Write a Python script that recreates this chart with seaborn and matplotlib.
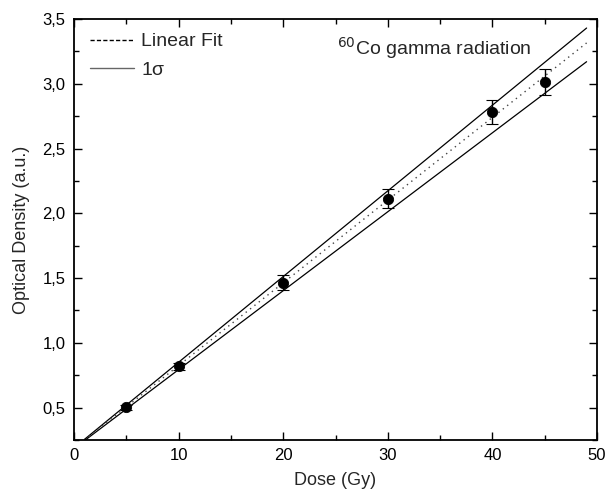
import numpy as np
import pandas as pd
import matplotlib
matplotlib.use("Agg")
import matplotlib.pyplot as plt
import seaborn as sns
from matplotlib.lines import Line2D
from matplotlib.ticker import FuncFormatter, MultipleLocator

# measured points
dose = [5, 10, 20, 30, 40, 45]
optical_density = [0.504, 0.818, 1.465, 2.113, 2.780, 3.010]
od_error = [0.02, 0.03, 0.06, 0.073, 0.092, 0.10]

# linear fit and 1 sigma band (endpoints)
fit_dose = [1, 49]
fit_od = [0.250, 3.315]
band_upper = [0.255, 3.43]
band_lower = [0.245, 3.17]

sns.set_style("ticks")
plt.rcParams["font.family"] = ["Liberation Sans", "DejaVu Sans"]

fig = plt.figure(figsize=(6.08, 4.99), dpi=100)
ax = fig.add_axes([0.1217, 0.1182, 0.8603, 0.8438])

points = pd.DataFrame({"dose": dose, "od": optical_density})
fit = pd.DataFrame({"dose": fit_dose, "fit": fit_od, "upper": band_upper, "lower": band_lower})

sns.lineplot(data=fit, x="dose", y="upper", color="black", lw=0.9, ax=ax)
sns.lineplot(data=fit, x="dose", y="lower", color="black", lw=0.9, ax=ax)
sns.lineplot(data=fit, x="dose", y="fit", color="#444444", lw=1.0,
             linestyle=(0, (1, 3)), ax=ax)

ax.errorbar(dose, optical_density, yerr=od_error, fmt="none", ecolor="black",
            elinewidth=1.0, capsize=4.5, capthick=0.8)
sns.scatterplot(data=points, x="dose", y="od", color="black", s=55,
                edgecolor="black", zorder=5, ax=ax)

ax.set_xlim(0, 50)
ax.set_ylim(0.25, 3.5)
ax.xaxis.set_major_locator(MultipleLocator(10))
ax.xaxis.set_minor_locator(MultipleLocator(5))
ax.yaxis.set_major_locator(MultipleLocator(0.5))
ax.yaxis.set_minor_locator(MultipleLocator(0.25))
ax.yaxis.set_major_formatter(FuncFormatter(lambda v, p: f"{v:.1f}".replace(".", ",")))

ax.tick_params(which="both", direction="in", top=True, right=True,
               labelsize=12, width=1.0, colors="black", pad=6)
ax.tick_params(which="major", length=6)
ax.tick_params(which="minor", length=3.5)
for spine in ax.spines.values():
    spine.set_linewidth(1.3)
    spine.set_color("black")

ax.set_xlabel("Dose (Gy)", fontsize=13, labelpad=6)
ax.set_ylabel("Optical Density (a.u.)", fontsize=13, labelpad=9)

handles = [
    Line2D([], [], color="black", lw=1.0, linestyle=(0, (3, 1.6))),
    Line2D([], [], color="#666666", lw=1.0),
]
ax.legend(handles, ["Linear Fit", "1σ"], loc="upper left",
          bbox_to_anchor=(0.03, 0.967), frameon=False,
          fontsize=14, handlelength=2.3, handletextpad=0.35, labelspacing=0.55,
          borderaxespad=0, borderpad=0)

ax.text(0.503, 0.915, r"$^{60}$Co gamma radiation", transform=ax.transAxes,
        fontsize=14)

fig.savefig("out.png", dpi=100)
